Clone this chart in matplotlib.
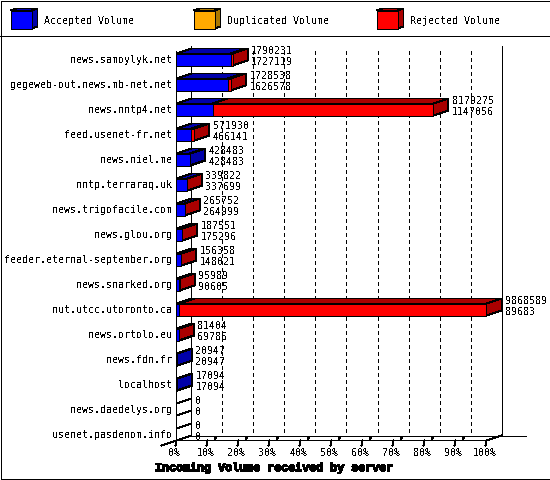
#!/usr/bin/env python3
# -*- coding: utf-8 -*-
import matplotlib
matplotlib.use('Agg')
import matplotlib.pyplot as plt
import matplotlib.patheffects as pe
from matplotlib.patches import Polygon, Rectangle

plt.rcParams['font.family'] = ['DejaVu Sans Mono']
plt.rcParams['text.antialiased'] = False

# Values
servers = ['news.samoylyk.net', 'gegeweb-out.news.mb-net.net', 'news.nntp4.net',
           'feed.usenet-fr.net', 'news.niel.me', 'nntp.terraraq.uk',
           'news.trigofacile.com', 'news.glou.org', 'feeder.eternal-september.org',
           'news.snarked.org', 'nut.utcc.utoronto.ca', 'news.ortolo.eu',
           'news.fdn.fr', 'localhost', 'news.daedelys.org', 'usenet.pasdenom.info']
total = [1790231, 1728538, 8179275, 571930, 428483, 339822, 265752, 187551,
         156358, 95989, 9868589, 81404, 20947, 17094, 0, 0]
accepted = [1727119, 1626578, 1147056, 466141, 428483, 337699, 264999, 175296,
            148021, 90605, 89683, 69786, 20947, 17094, 0, 0]
pct_ticks = [0, 10, 20, 30, 40, 50, 60, 70, 80, 90, 100]
legend_names = ['Accepted Volume', 'Duplicated Volume', 'Rejected Volume']

BLUE = ('#0000ff', '#0000aa', '#0000aa')
YELLOW = ('#ffaa00', '#aa7700', '#aa7700')
RED = ('#ff0000', '#aa0000', '#aa0000')

# pixels per unit of the two data scales, and the fake 3D depth
PX_X = 3.1
PX_Y = 25.0
X0 = 176.5
Y0 = 59.5
DX = 15 / PX_X
DY = 5 / PX_Y
HALF = 6 / PX_Y
LW = 0.72


def box(ax, x0, x1, row, colors, side=True):
    # top, side and front faces of one bar segment
    ax.add_patch(Polygon([(x0, row - HALF), (x0 + DX, row - HALF - DY),
                          (x1 + DX, row - HALF - DY), (x1, row - HALF)],
                         fc=colors[1], ec='black', lw=LW, aa=False, zorder=3))
    if side:
        ax.add_patch(Polygon([(x1, row - HALF), (x1 + DX, row - HALF - DY),
                              (x1 + DX, row + HALF - DY), (x1, row + HALF)],
                             fc=colors[2], ec='black', lw=LW, aa=False, zorder=3))
    ax.add_patch(Rectangle((x0, row - HALF), x1 - x0, 2 * HALF,
                           fc=colors[0], ec='black', lw=LW, aa=False, zorder=4))


fig = plt.figure(figsize=(5.5, 4.8), dpi=100)
ax = fig.add_axes([0, 0, 1, 1])
ax.set_xlim(-X0 / PX_X, (550 - X0) / PX_X)
ax.set_ylim((480 - Y0) / PX_Y, -Y0 / PX_Y)
ax.axis('off')

frame = fig.add_axes([0, 0, 1, 1], zorder=-1)
frame.set_xlim(0, 550)
frame.set_ylim(480, 0)
frame.axis('off')

# outer border and legend strip
frame.add_patch(Rectangle((0.5, 0.5), 549, 478.5, fc='white', ec='black', lw=LW, aa=False))
frame.plot([0, 550], [35.5, 35.5], color='black', lw=LW, aa=False)

floor = len(servers) - 1 + HALF
top = -HALF - DY - 3 / PX_Y

# dashed grid on the back wall
for p in pct_ticks[1:-1]:
    ax.plot([p + DX, p + DX], [-9 / PX_Y, floor - DY], color='black', lw=LW, aa=False,
            dashes=(4, 4), dash_capstyle='butt', zorder=1)

# walls and floor
ax.plot([DX, DX], [top, floor - DY], color='black', lw=LW, aa=False, zorder=1)
ax.plot([100 + DX, 100 + DX], [top, floor - DY], color='black', lw=LW, aa=False, zorder=1)
ax.plot([DX, 100 + DX + 25 / PX_X], [floor - DY, floor - DY], color='black', lw=LW, aa=False, zorder=1)
ax.plot([0, 0], [top + DY, floor], color='black', lw=LW, aa=False, zorder=5)
ax.plot([0, 100, 100 + DX], [floor, floor, floor - DY], color='black', lw=LW, aa=False, zorder=2)
ax.plot([-DX, 0], [floor + DY, floor], color='black', lw=LW, aa=False, zorder=2)

# x ticks
for p in pct_ticks:
    ax.plot([p - 0.3, p], [floor + DY, floor], color='black', lw=LW, aa=False, zorder=2)
    if 0 < p < 100:
        ax.plot([p + 7 / PX_X, p + 9 / PX_X], [floor - 2 / PX_Y, floor - 3 / PX_Y], color='black',
                lw=1.6, aa=False, solid_capstyle='butt', zorder=2)
    ax.text(p - 0.6, floor + 13 / PX_Y, '%d%%' % p, ha='center', va='center', fontsize=7.2)

# the bitmap bold of the original is heavier than the font's own bold
ax.text(31.5, floor + 27.5 / PX_Y, 'Incoming Volume received by server', ha='center', va='center',
        family='Liberation Mono', fontsize=8.4, fontweight='bold',
        path_effects=[pe.withStroke(linewidth=0.2, foreground='black')])

# stacked bars, scaled on the largest total
biggest = max(total)
for i, name in enumerate(servers):
    acc = accepted[i] / biggest * 100
    tot = total[i] / biggest * 100
    if tot > acc:
        box(ax, 0, acc, i, BLUE, side=False)
        box(ax, acc, tot, i, RED)
    else:
        box(ax, 0, acc, i, BLUE if tot > 0 else ('white', 'white', 'white'))
    ax.text(-4.5 / PX_X, i + 0.8 / PX_Y, name, ha='right', va='center', fontsize=7.2)
    ax.text(tot + DX + 3.5 / PX_X, i - 8.2 / PX_Y, str(total[i]), ha='left', va='center', fontsize=7.2, zorder=6)
    ax.text(tot + DX + 3.5 / PX_X, i + 2.8 / PX_Y, str(accepted[i]), ha='left', va='center', fontsize=7.2, zorder=6)

# legend swatches
for x, name, colors in zip([10.5, 193.5, 376.5], legend_names, [BLUE, YELLOW, RED]):
    frame.add_patch(Polygon([(x, 10.5), (x + 6, 8.5), (x + 27, 8.5), (x + 21, 10.5)],
                            fc=colors[1], ec='black', lw=LW, aa=False))
    frame.add_patch(Polygon([(x + 21, 10.5), (x + 27, 8.5), (x + 27, 26.5), (x + 21, 28.5)],
                            fc=colors[2], ec='black', lw=LW, aa=False))
    frame.add_patch(Rectangle((x, 10.5), 21, 18, fc=colors[0], ec='black', lw=LW, aa=False))
    frame.text(x + 33.5, 21, name, ha='left', va='center', fontsize=7.2)

fig.savefig('out.png', dpi=100)
